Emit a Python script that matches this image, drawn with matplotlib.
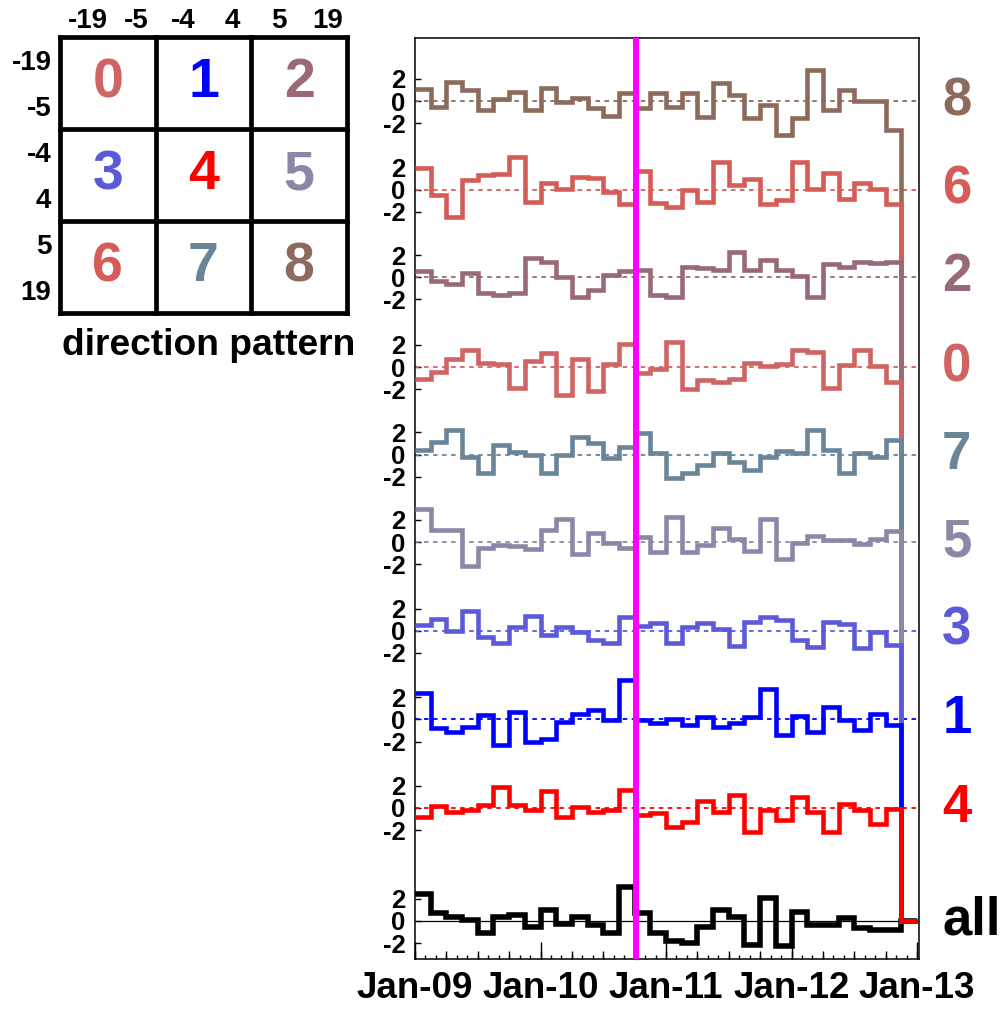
import matplotlib
matplotlib.use('Agg')
import matplotlib.pyplot as plt
import numpy as np
from matplotlib.transforms import blended_transform_factory

plt.rcParams['font.family'] = ['Liberation Sans', 'DejaVu Sans']
plt.rcParams['font.weight'] = 'bold'

# time axis: years since Jan-09, 1.5 month bins, last bin empty
bin_w = 0.125
year_ticks = [0, 1, 2, 3, 4]
year_labels = ['Jan-09', 'Jan-10', 'Jan-11', 'Jan-12', 'Jan-13']
magenta_x = 1.76

# deviations per bin, series listed top to bottom
s8 = [1.1, -0.5, 1.7, 1.0, -0.8, 0.15, 0.8, -0.8, 1.2, -0.05, 0.3, -0.65, -1.35, 0.75, -0.65, 0.7,
      -0.5, 0.7, -1.4, 1.65, 0.55, -1.55, -0.35, -3.05, -1.55, 2.8, -0.8, 1.0, 0.05, 0.05, -2.6]
s6 = [2.0, -0.5, -2.5, 0.9, 1.3, 1.45, 2.95, -1.1, 0.6, 0.1, 1.15, 1.1, -0.2, -1.25, 1.7, -1.2,
      -1.55, -0.05, -1.1, 2.5, 0.4, 1.0, -1.25, -0.95, 2.5, 0.1, 1.5, -0.8, 0.6, 0.1, -1.3]
s2 = [0.6, -0.3, -0.6, 0.35, -1.45, -1.6, -1.45, 1.7, 1.4, 0.05, -1.8, -1.15, 0.2, 0.6, 0.7, -1.6,
      -1.8, 0.9, 0.85, 0.65, 2.3, 0.65, 1.55, 0.65, 0.1, -1.8, 1.2, 0.9, 1.4, 1.3, 1.4]
s0 = [-1.05, -0.45, 0.75, 1.5, 0.35, 0.25, -1.85, 0.55, 1.25, -2.55, 0.75, -2.15, 0.3, 2.1, -0.55, -0.15,
      2.25, -1.95, -1.15, -1.35, -1.05, 0.35, 0.05, 0.3, 1.55, 1.35, -1.85, 0.15, 1.55, 0.05, -1.35]
s7 = [0.4, 1.15, 2.25, -0.2, -1.65, 0.85, 0.25, -0.05, -1.65, -0.05, 1.6, 1.0, -0.35, 0.7, 1.95, 0.15,
      -2.15, -1.7, -0.9, 0.1, -0.65, -1.35, -0.2, 0.35, 0.1, 2.25, 0.4, -1.65, 0.15, -0.2, 1.35]
s5 = [3.0, 1.1, 1.1, -2.2, -0.5, -0.3, -0.35, -0.6, 1.1, 2.1, -1.1, 0.8, -0.1, -0.5, 0.45, -0.9,
      2.3, -0.9, -0.3, 1.3, 0.25, -0.8, 2.05, -1.5, -0.1, 0.55, 0.2, 0.2, -0.2, 0.25, 1.0]
s3 = [0.5, 1.1, 0.0, 1.8, -0.6, -1.15, 0.3, 1.3, -0.4, 0.35, -0.1, -0.8, -1.15, 1.25, 0.4, 0.7,
      -1.15, 0.3, 0.7, 0.2, -1.4, 0.75, 1.25, 1.0, -0.85, -1.5, 0.75, 0.6, -1.6, -0.1, -1.3]
s1 = [2.35, -0.8, -1.1, -0.65, 0.4, -2.3, 0.7, -2.0, -1.8, -0.2, 0.5, 0.85, -0.05, 3.55, -0.05, -0.35,
      0.0, -0.5, 0.25, -0.65, -0.3, 0.25, 2.7, -1.4, 0.3, -1.1, 1.1, -0.05, -0.95, 0.5, -0.5]
s4 = [-0.85, 0.15, -0.35, -0.15, 0.25, 1.9, 0.25, -0.2, 1.55, -0.8, 0.05, -0.35, -0.15, 1.6, -0.65, -0.45,
      -1.7, -1.25, 0.6, -0.35, 1.15, -2.15, -0.15, -1.1, 1.0, -0.35, -2.15, 0.4, -0.2, -1.4, -0.05]
s_all = [2.45, 0.75, 0.4, 0.1, -1.1, 0.4, 0.55, -0.5, 0.95, -0.25, 0.4, -0.35, -1.1, 3.1, 0.7, -1.1,
         -1.85, -2.0, -0.5, 1.0, 0.4, -2.15, 2.05, -2.25, 0.85, -0.35, -0.35, 0.25, -0.65, -0.8, -0.85]

names = ['8', '6', '2', '0', '7', '5', '3', '1', '4', 'all']
series = [s8, s6, s2, s0, s7, s5, s3, s1, s4, s_all]
offsets = [74.0, 66.0, 58.1, 50.0, 42.1, 34.2, 26.2, 18.2, 10.2, 0.0]
colors = ['#8c6a5c', '#d65c58', '#9a6a74', '#d06464', '#6a8498',
          '#8a88a6', '#5c5ad8', '#0000ff', '#ff0000', '#000000']

# direction pattern grid
grid_ids = [[0, 1, 2], [3, 4, 5], [6, 7, 8]]
edge_labels = ['-19', '-5', '-4', '4', '5', '19']
id_color = {0: '#d06464', 1: '#0000ff', 2: '#9a6a74', 3: '#5c5ad8', 4: '#ff0000',
            5: '#8a88a6', 6: '#d65c58', 7: '#6a8498', 8: '#8c6a5c'}

W, H = 1003, 1010
fig = plt.figure(figsize=(W / 100, H / 100), dpi=100)

# ---- left: direction pattern
gx0, gx1, gy0, gy1 = 60, 347, 37, 313
ag = fig.add_axes([gx0 / W, 1 - gy1 / H, (gx1 - gx0) / W, (gy1 - gy0) / H])
ag.set_xlim(0, 3)
ag.set_ylim(3, 0)
ag.axis('off')
for k in range(4):
    ag.plot([k, k], [0, 3], color='black', lw=3.4, solid_capstyle='projecting', clip_on=False)
    ag.plot([0, 3], [k, k], color='black', lw=3.4, solid_capstyle='projecting', clip_on=False)
for r, row in enumerate(grid_ids):
    for c, gid in enumerate(row):
        ag.text(c + 0.5, r + 0.5, str(gid), ha='center', va='center', fontsize=40,
                color=id_color[gid], fontweight='bold')
for c in range(3):
    ag.text(c + 0.29, -0.17, edge_labels[2 * c], ha='center', va='center', fontsize=20, clip_on=False)
    ag.text(c + 0.80, -0.17, edge_labels[2 * c + 1], ha='center', va='center', fontsize=20, clip_on=False)
for r in range(3):
    ag.text(-0.09, r + 0.28, edge_labels[2 * r], ha='right', va='center', fontsize=20, clip_on=False)
    ag.text(-0.09, r + 0.78, edge_labels[2 * r + 1], ha='right', va='center', fontsize=20, clip_on=False)
ag.text(1.55, 3.46, 'direction pattern', ha='center', va='baseline', fontsize=26.7, clip_on=False)

# ---- right: stacked time series
ax = fig.add_axes([415 / W, 1 - 959 / H, 504 / W, 921 / H])
nb = len(s_all) + 1
edges = np.arange(nb + 1) * bin_w

# "all" first, then the others on top in list order
order = [9] + list(range(9))
for z, i in enumerate(order):
    vals = np.append(np.array(series[i]) + offsets[i], 0.0)
    lw = 4.0 if names[i] == 'all' else 3.3
    ax.stairs(vals, edges, baseline=None, color=colors[i], lw=lw, zorder=3 + z)
    if names[i] == 'all':
        ax.axhline(offsets[i], color='black', lw=0.9, zorder=2)
    else:
        ax.axhline(offsets[i], color=colors[i], lw=1.3, ls=(0, (2.5, 2.5)), zorder=2)

ax.axvline(magenta_x, color='#ff00ff', lw=4.3, zorder=20)

ax.set_xlim(0, 504 / 125.5)
ax.set_ylim(-3.43, 79.7)

trans = blended_transform_factory(ax.transAxes, ax.transData)
for i, nm in enumerate(names):
    ax.text(1.046, offsets[i], nm, transform=trans, ha='left', va='center',
            fontsize=38, color=colors[i], fontweight='bold', clip_on=False)

yt, yl = [], []
for off in offsets:
    for d in (2, 0, -2):
        yt.append(off + d)
        yl.append(str(d))
ax.set_yticks(yt)
ax.set_yticklabels(yl)
ax.tick_params(axis='y', direction='in', length=4, width=1, labelsize=18.5, pad=7, right=False)

ax.set_xticks(year_ticks)
ax.set_xticklabels(year_labels)
ax.set_xticks(np.arange(0, 4.01, 1 / 12), minor=True)
ax.tick_params(axis='x', which='major', direction='in', length=12, width=1, labelsize=26.5, pad=9, top=False)
ax.tick_params(axis='x', which='minor', direction='in', length=3, width=1, top=False)
sec = ax.secondary_xaxis('bottom')
sec.set_xticks(np.arange(0, 4.01, 0.25))
sec.tick_params(direction='in', length=6, width=1, labelbottom=False)
sec.spines['bottom'].set_visible(False)

for sp in ax.spines.values():
    sp.set_linewidth(1.1)

fig.savefig('out.png', dpi=100)
